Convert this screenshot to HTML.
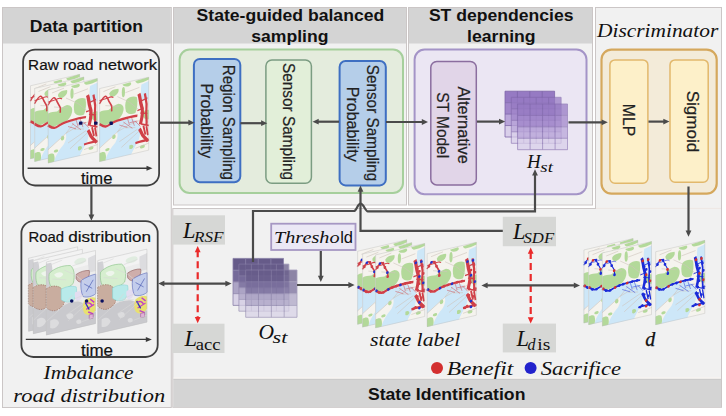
<!DOCTYPE html>
<html><head><meta charset="utf-8"><style>
html,body{margin:0;padding:0;background:#fff;}
body{width:726px;height:416px;overflow:hidden;}
svg{display:block;font-family:"Liberation Sans",sans-serif;}
.serif{font-family:"Liberation Serif",serif;font-style:italic;}
.hv{stroke:#111;stroke-width:0.2px;}
.hv2{stroke:#222;stroke-width:0.2px;}
</style></head><body>
<svg width="726" height="416" viewBox="0 0 726 416">
<defs>
<marker id="ah" viewBox="0 0 10 10" refX="9" refY="5" markerWidth="4.2" markerHeight="4.2" orient="auto-start-reverse" markerUnits="strokeWidth"><path d="M0,0.5 L10,5 L0,9.5 Z" fill="#4d4d4d"/></marker>
<marker id="ahr" viewBox="0 0 10 10" refX="9" refY="5" markerWidth="4.2" markerHeight="4.2" orient="auto-start-reverse" markerUnits="strokeWidth"><path d="M0,0.5 L10,5 L0,9.5 Z" fill="#e8302a"/></marker>
<marker id="ahk" viewBox="0 0 10 10" refX="9" refY="5" markerWidth="5" markerHeight="5" orient="auto-start-reverse" markerUnits="strokeWidth"><path d="M0,0.5 L10,5 L0,9.5 Z" fill="#404040"/></marker>

<g id="mRaw"><rect x="0" y="0" width="49.5" height="71" fill="#f5f3ee"/><path d="M0,36 C3,38 5,39.3 7,39.3 C10,39 14,37.5 18,36.5 C22,36 25,35.8 28,35.8 C32,36 36,38 39,42 L41,47 C41,53 40,58 38,61 C36,64 34,67 32,71 L0,71 Z" fill="#cde7f8"/><path d="M0,58 L17.5,46.2 C19,49 18,53 16,56 C12,60 8,64 6,71 L0,71 Z" fill="#f5f3ee"/><path d="M32,71 C34,67 36,64 38,61 L49.5,59 L49.5,71 Z" fill="#f5f3ee"/><path d="M42,5.7 L49.5,4 L49.5,22 L42.5,22 C41,15 41.5,10 42,5.7 Z" fill="#cde7f8"/><path d="M23,1.5 L31,1 C32.5,2.5 32,4 29.5,4.5 C26,4.5 24,3.5 23,1.5 Z" fill="#b3d99a"/><path d="M36,1 L49.5,0 L49.5,2.5 C46,3.5 42,4 38.5,3.8 C37,3.4 36.3,2.3 36,1 Z" fill="#b3d99a"/><path d="M10,7 C11,4.5 15,3.8 19,4.5 C20,7 18,10.5 14,11 C11,11 9.7,9 10,7 Z" fill="#b3d99a"/><path d="M27,17 C30,14.5 35,15 37.5,17 C38.5,22 38,28 36,32 C32,33 28,31 26.5,28 C25.5,24 25.5,20 27,17 Z" fill="#b3d99a"/><path d="M0,23 C3,22 6,22.5 9,23 C12,21 16,19 19,19 C23,20 25,23 24,27 C23,31 21,33 18,34.5 C12,35.5 8,36.5 6,37 C3,36.5 1,35 0,34.5 Z" fill="#b3d99a"/><path d="M42,33 C45,31 48,31 49.5,32 L49.5,41 C46,41 43,38 42,33 Z" fill="#b3d99a"/><path d="M0,63 C2,62 5,62 6,64 C7,67 6.5,70 6,71 L0,71 Z" fill="#b3d99a"/><path d="M30,62 C32,61 34,62 34,64 C33,66 31,66 30,65 Z" fill="#b3d99a"/><ellipse cx="24" cy="9" rx="1.6" ry="5" fill="#b3d99a"/><ellipse cx="14.5" cy="50" rx="1.8" ry="2.2" fill="#b3d99a"/><ellipse cx="8" cy="61" rx="2.2" ry="1.4" fill="#b3d99a"/><ellipse cx="43" cy="66" rx="2.5" ry="1.6" fill="#b3d99a"/><path d="M0,58 L17.5,46.6 L26,38 M18,46 L30,42 L40,40 M18,12 L30,20 L40,30 M6,18 L20,22 M22,62 L34,54 L40,50 M4,4 L16,2 M26,10 L40,8 M20,56 L38,48 M36,66 L49.5,64 M26,44 L36,46" stroke="#cdc4bb" stroke-width="0.55" fill="none"/><path d="M0,15 C2,12 4,9 5.8,9 C7.5,9 8.5,12 9.5,14.5 C10.5,16.5 11.5,18 12.3,20 L12.3,25" stroke="#d04048" stroke-width="1.5" fill="none"/><path d="M0,12 C3,11 6,12 9,11 C11,10.5 13,11 14,12" stroke="#d04048" stroke-width="1.0" fill="none"/><path d="M0,34.5 C2,36 4,38 6.5,38.3 C8.5,38.5 10,37.5 11,37 C14,36 16,35.5 18,35.3 C21,35 24,34.8 27,34.7 C31,34.5 35,34.5 38,35" stroke="#d04048" stroke-width="2.3" fill="none"/><path d="M39.5,14 C41,18 40.5,21 42,26 C44,31 43,37 41,44" stroke="#d04048" stroke-width="3.2" fill="none"/><path d="M45.5,15 C46,20 48,24 47,31 C46,37 48,41 47,46" stroke="#d04048" stroke-width="2.2" fill="none"/><path d="M40,22 L48,20 M41,33 L48,35 M38,30 L44,29" stroke="#d04048" stroke-width="1.3" fill="none"/><path d="M40,48 C42,51 42,54 44,56 C45,58 47,59 48.6,62" stroke="#d04048" stroke-width="3.0" fill="none"/><path d="M44,46 L46,55 M47,47 L48.5,56" stroke="#d04048" stroke-width="1.8" fill="none"/><path d="M36,61 C40,60.5 44,60 49.5,61" stroke="#d04048" stroke-width="2.2" fill="none"/><path d="M42,44 L49.5,47" stroke="#d04048" stroke-width="1.5" fill="none"/><path d="M28,35 L30,42 M32,35 L35,44 M36,40 L41,46 M30,40 L38,40 M24,38 L33,46 M20,40 L28,44" stroke="#d04048" stroke-width="0.8" fill="none" opacity="0.55"/><rect x="0.2" y="0.2" width="49.1" height="70.6" fill="none" stroke="#bdbdbd" stroke-width="0.4"/></g>
<g id="mDist"><rect x="0" y="0" width="49.5" height="71" fill="#ececec"/><path d="M0,46 C4,46 8,48 12,50 L14,47 C20,45 27,44 33,46 C38,48 44,54 49.5,60 L49.5,71 L0,71 Z" fill="#c9c9cd"/><path d="M4,58 C8,56 12,58 13,62 C11,66 7,67 4,65 Z M20,56 C24,54 28,56 27,60 C24,62 21,61 20,56 Z M30,64 C33,62 36,64 35,67 C32,68 30,67 30,64 Z" fill="#dcdcde"/><path d="M0,0 L49.5,0 L49.5,12 L0,14 Z" fill="#f3f3f3"/><path d="M0,2 L5,2 C7,8 6,16 7,24 L0,25 Z" fill="#d0d0d4"/><path d="M42,5.7 L49.5,4 L49.5,20 L43,20 C42,14 41.5,10 42,5.7 Z" fill="#dcdcdf"/><path d="M3,12 C8,8 16,7 24,9 C28,12 29,20 27,27 C22,31 14,31 8,29 C4,26 2,20 3,12 Z" fill="#d6eecf" stroke="#8cc48a" stroke-width="0.6"/><path d="M8,14 C12,12 16,13 17,16 C15,19 10,19 8,14 Z" fill="#eef5ec"/><path d="M0,26 C5,24 10,25 14,28 C18,32 19,38 18,44 C16,48 11,50 7,49 C4,48 1,46 0,44 Z" fill="#c9ad9f" stroke="#9a6a5a" stroke-width="0.6" stroke-dasharray="1.5,1"/><path d="M15,30 C20,28 26,29 30,31 C31,36 30,41 27,44 C22,45 18,43 15,40 Z" fill="#b8eaea" stroke="#80d4d4" stroke-width="0.5"/><path d="M29,36 C32,35 35,36 37,38 C37,42 34,45 31,45 C29,43 28,39 29,36 Z" fill="#e3dcf0"/><path d="M30,19 C34,17 39,17 43,18 C44,22 42,26 38,28 C34,28 31,26 30,23 Z" fill="#cfaeab" stroke="#8f5f5f" stroke-width="0.6"/><path d="M35,26 C39,24 45,23 49.5,23 L49.5,42 C46,44 41,44 37,42 C35,38 34,31 35,26 Z" fill="#c3cdec" stroke="#4858b0" stroke-width="0.5"/><path d="M38,30 L46,36 M40,38 L47,28" stroke="#4858b0" stroke-width="0.6"/><path d="M38,46 C42,44 47,44 49.5,46 L49.5,58 C46,62 41,62 38,58 C36,54 36,49 38,46 Z" fill="#e8e070"/><path d="M39,50 C42,48 45,50 46,53 M40,55 L48,52 M42,58 L47,61 M44,46 L48,50" stroke="#c040c8" stroke-width="1.3" fill="none"/><path d="M39,48 L43,56" stroke="#3030c0" stroke-width="1.2"/><rect x="43" y="61" width="4" height="4" fill="#e0b0d8" stroke="#a05090" stroke-width="0.5"/><ellipse cx="34" cy="7" rx="6" ry="3" fill="#e0ece0"/><path d="M0,58 L17.5,46.6 L26,38 M18,46 L30,42 L40,40 M18,12 L30,20 L40,30 M6,18 L20,22 M22,62 L34,54 L40,50 M4,4 L16,2 M26,10 L40,8 M20,56 L38,48 M36,66 L49.5,64 M26,44 L36,46" stroke="#d8d8d8" stroke-width="0.55" fill="none"/><rect x="0.2" y="0.2" width="49.1" height="70.6" fill="none" stroke="#bdbdbd" stroke-width="0.4"/></g>
<g id="mState"><rect x="0" y="0" width="49.5" height="71" fill="#f5f3ee"/><path d="M0,36 C3,38 5,39.3 7,39.3 C10,39 14,37.5 18,36.5 C22,36 25,35.8 28,35.8 C32,36 36,38 39,42 L41,47 C41,53 40,58 38,61 C36,64 34,67 32,71 L0,71 Z" fill="#cde7f8"/><path d="M0,58 L17.5,46.2 C19,49 18,53 16,56 C12,60 8,64 6,71 L0,71 Z" fill="#f5f3ee"/><path d="M32,71 C34,67 36,64 38,61 L49.5,59 L49.5,71 Z" fill="#f5f3ee"/><path d="M42,5.7 L49.5,4 L49.5,22 L42.5,22 C41,15 41.5,10 42,5.7 Z" fill="#cde7f8"/><path d="M23,1.5 L31,1 C32.5,2.5 32,4 29.5,4.5 C26,4.5 24,3.5 23,1.5 Z" fill="#b3d99a"/><path d="M36,1 L49.5,0 L49.5,2.5 C46,3.5 42,4 38.5,3.8 C37,3.4 36.3,2.3 36,1 Z" fill="#b3d99a"/><path d="M10,7 C11,4.5 15,3.8 19,4.5 C20,7 18,10.5 14,11 C11,11 9.7,9 10,7 Z" fill="#b3d99a"/><path d="M27,17 C30,14.5 35,15 37.5,17 C38.5,22 38,28 36,32 C32,33 28,31 26.5,28 C25.5,24 25.5,20 27,17 Z" fill="#b3d99a"/><path d="M0,23 C3,22 6,22.5 9,23 C12,21 16,19 19,19 C23,20 25,23 24,27 C23,31 21,33 18,34.5 C12,35.5 8,36.5 6,37 C3,36.5 1,35 0,34.5 Z" fill="#b3d99a"/><path d="M42,33 C45,31 48,31 49.5,32 L49.5,41 C46,41 43,38 42,33 Z" fill="#b3d99a"/><path d="M0,63 C2,62 5,62 6,64 C7,67 6.5,70 6,71 L0,71 Z" fill="#b3d99a"/><path d="M30,62 C32,61 34,62 34,64 C33,66 31,66 30,65 Z" fill="#b3d99a"/><ellipse cx="24" cy="9" rx="1.6" ry="5" fill="#b3d99a"/><ellipse cx="14.5" cy="50" rx="1.8" ry="2.2" fill="#b3d99a"/><ellipse cx="8" cy="61" rx="2.2" ry="1.4" fill="#b3d99a"/><ellipse cx="43" cy="66" rx="2.5" ry="1.6" fill="#b3d99a"/><path d="M0,58 L17.5,46.6 L26,38 M18,46 L30,42 L40,40 M18,12 L30,20 L40,30 M6,18 L20,22 M22,62 L34,54 L40,50 M4,4 L16,2 M26,10 L40,8 M20,56 L38,48 M36,66 L49.5,64 M26,44 L36,46" stroke="#cdc4bb" stroke-width="0.55" fill="none"/><path d="M0,15 C2,12 4,9 5.8,9 C7.5,9 8.5,12 9.5,14.5 C10.5,16.5 11.5,18 12.3,20 L12.3,25" stroke="#d04048" stroke-width="1.5" fill="none"/><path d="M0,12 C3,11 6,12 9,11 C11,10.5 13,11 14,12" stroke="#d04048" stroke-width="1.0" fill="none"/><path d="M0,34.5 C2,36 4,38 6.5,38.3 C8.5,38.5 10,37.5 11,37 C14,36 16,35.5 18,35.3 C21,35 24,34.8 27,34.7 C31,34.5 35,34.5 38,35" stroke="#d04048" stroke-width="2.3" fill="none"/><path d="M39.5,14 C41,18 40.5,21 42,26 C44,31 43,37 41,44" stroke="#d04048" stroke-width="3.2" fill="none"/><path d="M45.5,15 C46,20 48,24 47,31 C46,37 48,41 47,46" stroke="#d04048" stroke-width="2.2" fill="none"/><path d="M40,22 L48,20 M41,33 L48,35 M38,30 L44,29" stroke="#d04048" stroke-width="1.3" fill="none"/><path d="M40,48 C42,51 42,54 44,56 C45,58 47,59 48.6,62" stroke="#d04048" stroke-width="3.0" fill="none"/><path d="M44,46 L46,55 M47,47 L48.5,56" stroke="#d04048" stroke-width="1.8" fill="none"/><path d="M36,61 C40,60.5 44,60 49.5,61" stroke="#d04048" stroke-width="2.2" fill="none"/><path d="M42,44 L49.5,47" stroke="#d04048" stroke-width="1.5" fill="none"/><path d="M28,35 L30,42 M32,35 L35,44 M36,40 L41,46 M30,40 L38,40 M24,38 L33,46 M20,40 L28,44" stroke="#d04048" stroke-width="0.8" fill="none" opacity="0.55"/><circle cx="1" cy="35.2" r="1.35" fill="#2233cc"/><circle cx="4" cy="37.5" r="1.35" fill="#d04048"/><circle cx="8" cy="38.2" r="1.35" fill="#d04048"/><circle cx="13" cy="36.5" r="1.35" fill="#2233cc"/><circle cx="17" cy="35.5" r="1.35" fill="#d04048"/><circle cx="21" cy="35.1" r="1.35" fill="#d04048"/><circle cx="25" cy="34.9" r="1.35" fill="#2233cc"/><circle cx="30" cy="34.6" r="1.35" fill="#d04048"/><circle cx="35" cy="34.6" r="1.35" fill="#d04048"/><circle cx="40.5" cy="17" r="1.35" fill="#2233cc"/><circle cx="42" cy="23" r="1.35" fill="#d04048"/><circle cx="44" cy="26" r="1.35" fill="#d04048"/><circle cx="44" cy="31" r="1.35" fill="#2233cc"/><circle cx="43.5" cy="38" r="1.35" fill="#d04048"/><circle cx="42.3" cy="44" r="1.35" fill="#d04048"/><circle cx="46" cy="17" r="1.35" fill="#2233cc"/><circle cx="47" cy="22" r="1.35" fill="#d04048"/><circle cx="48" cy="29" r="1.35" fill="#d04048"/><circle cx="48" cy="38" r="1.35" fill="#2233cc"/><circle cx="48.5" cy="45" r="1.35" fill="#d04048"/><circle cx="42" cy="50" r="1.35" fill="#d04048"/><circle cx="44" cy="56" r="1.35" fill="#2233cc"/><circle cx="47" cy="60" r="1.35" fill="#d04048"/><circle cx="2" cy="13" r="1.35" fill="#d04048"/><circle cx="4.5" cy="9.6" r="1.35" fill="#2233cc"/><circle cx="7.5" cy="10" r="1.35" fill="#d04048"/><circle cx="9.5" cy="14.5" r="1.35" fill="#d04048"/><circle cx="12" cy="20" r="1.35" fill="#2233cc"/><circle cx="12.3" cy="24" r="1.35" fill="#d04048"/><circle cx="40" cy="60" r="1.35" fill="#d04048"/><circle cx="44" cy="61.5" r="1.35" fill="#2233cc"/><circle cx="46" cy="52" r="1.35" fill="#d04048"/><circle cx="38" cy="61" r="1.35" fill="#d04048"/><rect x="0.2" y="0.2" width="49.1" height="70.6" fill="none" stroke="#bdbdbd" stroke-width="0.4"/></g>
<g id="mD"><rect x="0" y="0" width="49.5" height="71" fill="#f5f3ee"/><path d="M0,36 C3,38 5,39.3 7,39.3 C10,39 14,37.5 18,36.5 C22,36 25,35.8 28,35.8 C32,36 36,38 39,42 L41,47 C41,53 40,58 38,61 C36,64 34,67 32,71 L0,71 Z" fill="#cde7f8"/><path d="M0,58 L17.5,46.2 C19,49 18,53 16,56 C12,60 8,64 6,71 L0,71 Z" fill="#f5f3ee"/><path d="M32,71 C34,67 36,64 38,61 L49.5,59 L49.5,71 Z" fill="#f5f3ee"/><path d="M42,5.7 L49.5,4 L49.5,22 L42.5,22 C41,15 41.5,10 42,5.7 Z" fill="#cde7f8"/><path d="M23,1.5 L31,1 C32.5,2.5 32,4 29.5,4.5 C26,4.5 24,3.5 23,1.5 Z" fill="#b3d99a"/><path d="M36,1 L49.5,0 L49.5,2.5 C46,3.5 42,4 38.5,3.8 C37,3.4 36.3,2.3 36,1 Z" fill="#b3d99a"/><path d="M10,7 C11,4.5 15,3.8 19,4.5 C20,7 18,10.5 14,11 C11,11 9.7,9 10,7 Z" fill="#b3d99a"/><path d="M27,17 C30,14.5 35,15 37.5,17 C38.5,22 38,28 36,32 C32,33 28,31 26.5,28 C25.5,24 25.5,20 27,17 Z" fill="#b3d99a"/><path d="M0,23 C3,22 6,22.5 9,23 C12,21 16,19 19,19 C23,20 25,23 24,27 C23,31 21,33 18,34.5 C12,35.5 8,36.5 6,37 C3,36.5 1,35 0,34.5 Z" fill="#b3d99a"/><path d="M42,33 C45,31 48,31 49.5,32 L49.5,41 C46,41 43,38 42,33 Z" fill="#b3d99a"/><path d="M0,63 C2,62 5,62 6,64 C7,67 6.5,70 6,71 L0,71 Z" fill="#b3d99a"/><path d="M30,62 C32,61 34,62 34,64 C33,66 31,66 30,65 Z" fill="#b3d99a"/><ellipse cx="24" cy="9" rx="1.6" ry="5" fill="#b3d99a"/><ellipse cx="14.5" cy="50" rx="1.8" ry="2.2" fill="#b3d99a"/><ellipse cx="8" cy="61" rx="2.2" ry="1.4" fill="#b3d99a"/><ellipse cx="43" cy="66" rx="2.5" ry="1.6" fill="#b3d99a"/><path d="M0,58 L17.5,46.6 L26,38 M18,46 L30,42 L40,40 M18,12 L30,20 L40,30 M6,18 L20,22 M22,62 L34,54 L40,50 M4,4 L16,2 M26,10 L40,8 M20,56 L38,48 M36,66 L49.5,64 M26,44 L36,46" stroke="#cdc4bb" stroke-width="0.55" fill="none"/><path d="M0,15 C2,12 4,9 5.8,9 C7.5,9 8.5,12 9.5,14.5 C10.5,16.5 11.5,18 12.3,20 L12.3,25" stroke="#1a2bd8" stroke-width="1.0" fill="none"/><path d="M0,12 C3,11 6,12 9,11 C11,10.5 13,11 14,12" stroke="#1a2bd8" stroke-width="0.5" fill="none"/><path d="M0,34.5 C2,36 4,38 6.5,38.3 C8.5,38.5 10,37.5 11,37 C14,36 16,35.5 18,35.3 C21,35 24,34.8 27,34.7 C31,34.5 35,34.5 38,35" stroke="#1a2bd8" stroke-width="1.7999999999999998" fill="none"/><path d="M39.5,14 C41,18 40.5,21 42,26 C44,31 43,37 41,44" stroke="#1a2bd8" stroke-width="2.7" fill="none"/><path d="M45.5,15 C46,20 48,24 47,31 C46,37 48,41 47,46" stroke="#1a2bd8" stroke-width="1.7000000000000002" fill="none"/><path d="M40,22 L48,20 M41,33 L48,35 M38,30 L44,29" stroke="#1a2bd8" stroke-width="0.8" fill="none"/><path d="M40,48 C42,51 42,54 44,56 C45,58 47,59 48.6,62" stroke="#1a2bd8" stroke-width="2.5" fill="none"/><path d="M44,46 L46,55 M47,47 L48.5,56" stroke="#1a2bd8" stroke-width="1.3" fill="none"/><path d="M36,61 C40,60.5 44,60 49.5,61" stroke="#1a2bd8" stroke-width="1.7000000000000002" fill="none"/><path d="M42,44 L49.5,47" stroke="#1a2bd8" stroke-width="1.0" fill="none"/><path d="M28,35 L30,42 M32,35 L35,44 M36,40 L41,46 M30,40 L38,40 M24,38 L33,46 M20,40 L28,44" stroke="#1a2bd8" stroke-width="0.8" fill="none" opacity="0.55"/><circle cx="1" cy="35.2" r="1.35" fill="#d03030"/><circle cx="4" cy="37.5" r="1.35" fill="#1a2bd8"/><circle cx="8" cy="38.2" r="1.35" fill="#1a2bd8"/><circle cx="13" cy="36.5" r="1.35" fill="#d03030"/><circle cx="17" cy="35.5" r="1.35" fill="#1a2bd8"/><circle cx="21" cy="35.1" r="1.35" fill="#1a2bd8"/><circle cx="25" cy="34.9" r="1.35" fill="#d03030"/><circle cx="30" cy="34.6" r="1.35" fill="#1a2bd8"/><circle cx="35" cy="34.6" r="1.35" fill="#1a2bd8"/><circle cx="40.5" cy="17" r="1.35" fill="#d03030"/><circle cx="42" cy="23" r="1.35" fill="#1a2bd8"/><circle cx="44" cy="26" r="1.35" fill="#1a2bd8"/><circle cx="44" cy="31" r="1.35" fill="#d03030"/><circle cx="43.5" cy="38" r="1.35" fill="#1a2bd8"/><circle cx="42.3" cy="44" r="1.35" fill="#1a2bd8"/><circle cx="46" cy="17" r="1.35" fill="#d03030"/><circle cx="47" cy="22" r="1.35" fill="#1a2bd8"/><circle cx="48" cy="29" r="1.35" fill="#1a2bd8"/><circle cx="48" cy="38" r="1.35" fill="#d03030"/><circle cx="48.5" cy="45" r="1.35" fill="#1a2bd8"/><circle cx="42" cy="50" r="1.35" fill="#1a2bd8"/><circle cx="44" cy="56" r="1.35" fill="#d03030"/><circle cx="47" cy="60" r="1.35" fill="#1a2bd8"/><circle cx="2" cy="13" r="1.35" fill="#1a2bd8"/><circle cx="4.5" cy="9.6" r="1.35" fill="#d03030"/><circle cx="7.5" cy="10" r="1.35" fill="#1a2bd8"/><circle cx="9.5" cy="14.5" r="1.35" fill="#1a2bd8"/><circle cx="12" cy="20" r="1.35" fill="#d03030"/><circle cx="12.3" cy="24" r="1.35" fill="#1a2bd8"/><circle cx="40" cy="60" r="1.35" fill="#1a2bd8"/><circle cx="44" cy="61.5" r="1.35" fill="#d03030"/><circle cx="46" cy="52" r="1.35" fill="#1a2bd8"/><circle cx="38" cy="61" r="1.35" fill="#1a2bd8"/><rect x="0.2" y="0.2" width="49.1" height="70.6" fill="none" stroke="#bdbdbd" stroke-width="0.4"/></g>
</defs>
<rect x="2.5" y="7.5" width="168.8" height="400" fill="#f1f1f1" stroke="#cbc6c6" stroke-width="1"/>
<rect x="3" y="8" width="167.8" height="35.5" fill="#d4d4d4"/>
<rect x="173.5" y="7.5" width="233" height="197.5" fill="#f1f1f1" stroke="#cbc6c6" stroke-width="1"/>
<rect x="174" y="8" width="232" height="35.5" fill="#d4d4d4"/>
<rect x="408.5" y="7.5" width="184" height="197.5" fill="#f1f1f1" stroke="#cbc6c6" stroke-width="1"/>
<rect x="409" y="8" width="183" height="35.5" fill="#d4d4d4"/>
<rect x="595.5" y="7.5" width="126" height="201" fill="#f1f1f1" stroke="#cbc6c6" stroke-width="1"/>
<rect x="172.8" y="208.5" width="548.7" height="198.8" fill="#f1f1f1" stroke="#cbc6c6" stroke-width="1"/>
<rect x="173.3" y="379" width="547.7" height="28" fill="#d4d4d4"/>
<line x1="173.5" y1="378" x2="721" y2="378" stroke="#fbf6f2" stroke-width="1.2"/>
<line x1="173.5" y1="379.3" x2="721" y2="379.3" stroke="#c6c6c6" stroke-width="0.8"/>
<rect x="596" y="200" width="125" height="12" fill="#f1f1f1"/>
<line x1="596" y1="208.4" x2="721" y2="208.4" stroke="#ece2de" stroke-width="0.7"/>
<g font-weight="bold" font-size="17" fill="#111">
<text x="29.8" y="31.8" textLength="113.3" lengthAdjust="spacingAndGlyphs">Data partition</text>
<text x="196.6" y="20.9" textLength="187.6" lengthAdjust="spacingAndGlyphs">State-guided balanced</text>
<text x="251.3" y="41.8" textLength="77.2" lengthAdjust="spacingAndGlyphs">sampling</text>
<text x="428.9" y="20.9" textLength="144.6" lengthAdjust="spacingAndGlyphs">ST dependencies</text>
<text x="467" y="42.2" textLength="68.6" lengthAdjust="spacingAndGlyphs">learning</text>
<text x="367.9" y="399.5" textLength="157.5" lengthAdjust="spacingAndGlyphs">State Identification</text>
</g>
<text class="serif" x="597" y="36.6" font-size="18" textLength="121.3" lengthAdjust="spacingAndGlyphs" fill="#111">Discriminator</text>
<rect x="23.1" y="49.6" width="136" height="135.9" rx="12" fill="none" stroke="#404040" stroke-width="1.8"/>
<text class="hv" x="28.1" y="69.9" font-size="15.3" textLength="65.5" lengthAdjust="spacingAndGlyphs" fill="#111">Raw road</text><text class="hv" x="98.5" y="69.9" font-size="15.3" textLength="58.6" lengthAdjust="spacingAndGlyphs" fill="#111">network</text>
<g transform="translate(30.30,85.60) skewY(-13.079) scale(1,1.0338)"><use href="#mRaw"/></g>
<g transform="translate(34.50,88.30) skewY(-13.079) scale(1,1.0338)"><use href="#mRaw"/></g>
<g transform="translate(48.00,89.80) skewY(-13.079) scale(1,1.0338)"><use href="#mRaw"/></g>
<g transform="translate(99.40,88.40) skewY(-13.079) scale(1,1.0338)"><use href="#mRaw"/></g>
<rect x="79.0" y="121.39999999999999" width="3.4" height="3.4" rx="0.9" fill="#0a1060"/>
<rect x="94.1" y="121.39999999999999" width="3.4" height="3.4" rx="0.9" fill="#0a1060"/>
<rect x="109.5" y="121.5" width="3.4" height="3.4" rx="0.9" fill="#0a1060"/>
<text class="hv" x="81" y="184.2" font-size="16" textLength="31.4" lengthAdjust="spacingAndGlyphs" fill="#111">time</text>
<rect x="21.4" y="221.2" width="136.3" height="135.8" rx="12" fill="none" stroke="#404040" stroke-width="1.8"/>
<text class="hv" x="28.6" y="242" font-size="15.3" textLength="35.5" lengthAdjust="spacingAndGlyphs" fill="#111">Road</text><text class="hv" x="68.2" y="242" font-size="15.3" textLength="82.8" lengthAdjust="spacingAndGlyphs" fill="#111">distribution</text>
<g transform="translate(28.40,258.10) skewY(-13.079) scale(1,1.0338)"><use href="#mDist"/></g>
<g transform="translate(33.10,260.50) skewY(-13.079) scale(1,1.0338)"><use href="#mDist"/></g>
<g transform="translate(46.20,261.80) skewY(-13.079) scale(1,1.0338)"><use href="#mDist"/></g>
<g transform="translate(97.60,260.40) skewY(-13.079) scale(1,1.0338)"><use href="#mDist"/></g>
<circle cx="71.7" cy="300.9" r="1.75" fill="#0a1060"/>
<circle cx="86.6" cy="300.9" r="1.75" fill="#0a1060"/>
<circle cx="102.1" cy="300.9" r="1.75" fill="#0a1060"/>
<text class="hv" x="81" y="356" font-size="16" textLength="32" lengthAdjust="spacingAndGlyphs" fill="#111">time</text>
<text class="serif" x="43.6" y="379.0" font-size="18" textLength="90" lengthAdjust="spacingAndGlyphs" fill="#111">Imbalance</text>
<text class="serif" x="13.3" y="401.8" font-size="18" textLength="151.8" lengthAdjust="spacingAndGlyphs" fill="#111">road distribution</text>
<rect x="179.6" y="49.6" width="223.4" height="143.4" rx="10" fill="#e4ecdd" stroke="#a6cf9c" stroke-width="2"/>
<rect x="193.9" y="58.9" width="46.4" height="123.4" rx="6" fill="#b5cee9" stroke="#3e6fc2" stroke-width="2"/>
<rect x="265.9" y="59.9" width="45.5" height="123.3" rx="6" fill="#e2efd9" stroke="#7b9c82" stroke-width="1.5"/>
<rect x="339.6" y="61" width="46.2" height="124.4" rx="6" fill="#b5cee9" stroke="#3e6fc2" stroke-width="2"/>
<g fill="#222">
<text class="hv2" x="222.50" y="122.35" transform="rotate(90 222.50 122.35)" text-anchor="middle" font-size="16" textLength="115.3" lengthAdjust="spacingAndGlyphs" fill="#222">Region Sampling</text>
<text class="hv2" x="201.40" y="120.90" transform="rotate(90 201.40 120.90)" text-anchor="middle" font-size="16" textLength="74.6" lengthAdjust="spacingAndGlyphs" fill="#222">Probability</text>
<text class="hv2" x="283.10" y="121.50" transform="rotate(90 283.10 121.50)" text-anchor="middle" font-size="16" textLength="117" lengthAdjust="spacingAndGlyphs" fill="#222">Sensor Sampling</text>
<text class="hv2" x="367.00" y="123.00" transform="rotate(90 367.00 123.00)" text-anchor="middle" font-size="16" textLength="116.5" lengthAdjust="spacingAndGlyphs" fill="#222">Sensor Sampling</text>
<text class="hv2" x="346.60" y="124.20" transform="rotate(90 346.60 124.20)" text-anchor="middle" font-size="16" textLength="75" lengthAdjust="spacingAndGlyphs" fill="#222">Probability</text>
</g>
<rect x="414.6" y="49.6" width="171.9" height="144.6" rx="10" fill="#ebe6f3" stroke="#a494c7" stroke-width="2"/>
<rect x="430.8" y="61.5" width="45.5" height="123.4" rx="6" fill="#e1d5e8" stroke="#8b6e9f" stroke-width="1.5"/>
<g fill="#222">
<text class="hv2" x="458.10" y="125.10" transform="rotate(90 458.10 125.10)" text-anchor="middle" font-size="16" textLength="77.3" lengthAdjust="spacingAndGlyphs" fill="#222">Alternative</text>
<text class="hv2" x="437.30" y="125.20" transform="rotate(90 437.30 125.20)" text-anchor="middle" font-size="16" textLength="65.9" lengthAdjust="spacingAndGlyphs" fill="#222">ST Model</text>
</g>
<g opacity="1.0"><rect x="505.00" y="91.20" width="49.60" height="11.45" fill="#967ac3"/><rect x="505.00" y="102.65" width="49.60" height="11.45" fill="#a186ca"/><rect x="505.00" y="114.10" width="49.60" height="11.45" fill="#b9a5d9"/><rect x="505.00" y="125.55" width="49.60" height="11.45" fill="#d9cfea"/><line x1="505.00" y1="91.20" x2="505.00" y2="137.00" stroke="#7e66a8" stroke-width="0.8"/><line x1="517.40" y1="91.20" x2="517.40" y2="137.00" stroke="#7e66a8" stroke-width="0.8"/><line x1="529.80" y1="91.20" x2="529.80" y2="137.00" stroke="#7e66a8" stroke-width="0.8"/><line x1="542.20" y1="91.20" x2="542.20" y2="137.00" stroke="#7e66a8" stroke-width="0.8"/><line x1="554.60" y1="91.20" x2="554.60" y2="137.00" stroke="#7e66a8" stroke-width="0.8"/><line x1="505.00" y1="91.20" x2="554.60" y2="91.20" stroke="#7e66a8" stroke-width="0.8"/><line x1="505.00" y1="102.65" x2="554.60" y2="102.65" stroke="#7e66a8" stroke-width="0.8"/><line x1="505.00" y1="114.10" x2="554.60" y2="114.10" stroke="#7e66a8" stroke-width="0.8"/><line x1="505.00" y1="125.55" x2="554.60" y2="125.55" stroke="#7e66a8" stroke-width="0.8"/><line x1="505.00" y1="137.00" x2="554.60" y2="137.00" stroke="#7e66a8" stroke-width="0.8"/></g>
<g opacity="0.72"><rect x="511.30" y="97.30" width="49.80" height="11.50" fill="#967ac3"/><rect x="511.30" y="108.80" width="49.80" height="11.50" fill="#a186ca"/><rect x="511.30" y="120.30" width="49.80" height="11.50" fill="#b9a5d9"/><rect x="511.30" y="131.80" width="49.80" height="11.50" fill="#d9cfea"/><line x1="511.30" y1="97.30" x2="511.30" y2="143.30" stroke="#7e66a8" stroke-width="0.8"/><line x1="523.75" y1="97.30" x2="523.75" y2="143.30" stroke="#7e66a8" stroke-width="0.8"/><line x1="536.20" y1="97.30" x2="536.20" y2="143.30" stroke="#7e66a8" stroke-width="0.8"/><line x1="548.65" y1="97.30" x2="548.65" y2="143.30" stroke="#7e66a8" stroke-width="0.8"/><line x1="561.10" y1="97.30" x2="561.10" y2="143.30" stroke="#7e66a8" stroke-width="0.8"/><line x1="511.30" y1="97.30" x2="561.10" y2="97.30" stroke="#7e66a8" stroke-width="0.8"/><line x1="511.30" y1="108.80" x2="561.10" y2="108.80" stroke="#7e66a8" stroke-width="0.8"/><line x1="511.30" y1="120.30" x2="561.10" y2="120.30" stroke="#7e66a8" stroke-width="0.8"/><line x1="511.30" y1="131.80" x2="561.10" y2="131.80" stroke="#7e66a8" stroke-width="0.8"/><line x1="511.30" y1="143.30" x2="561.10" y2="143.30" stroke="#7e66a8" stroke-width="0.8"/></g>
<g opacity="0.72"><rect x="517.60" y="104.00" width="50.00" height="11.43" fill="#967ac3"/><rect x="517.60" y="115.42" width="50.00" height="11.43" fill="#a186ca"/><rect x="517.60" y="126.85" width="50.00" height="11.43" fill="#b9a5d9"/><rect x="517.60" y="138.28" width="50.00" height="11.43" fill="#d9cfea"/><line x1="517.60" y1="104.00" x2="517.60" y2="149.70" stroke="#7e66a8" stroke-width="0.8"/><line x1="530.10" y1="104.00" x2="530.10" y2="149.70" stroke="#7e66a8" stroke-width="0.8"/><line x1="542.60" y1="104.00" x2="542.60" y2="149.70" stroke="#7e66a8" stroke-width="0.8"/><line x1="555.10" y1="104.00" x2="555.10" y2="149.70" stroke="#7e66a8" stroke-width="0.8"/><line x1="567.60" y1="104.00" x2="567.60" y2="149.70" stroke="#7e66a8" stroke-width="0.8"/><line x1="517.60" y1="104.00" x2="567.60" y2="104.00" stroke="#7e66a8" stroke-width="0.8"/><line x1="517.60" y1="115.42" x2="567.60" y2="115.42" stroke="#7e66a8" stroke-width="0.8"/><line x1="517.60" y1="126.85" x2="567.60" y2="126.85" stroke="#7e66a8" stroke-width="0.8"/><line x1="517.60" y1="138.28" x2="567.60" y2="138.28" stroke="#7e66a8" stroke-width="0.8"/><line x1="517.60" y1="149.70" x2="567.60" y2="149.70" stroke="#7e66a8" stroke-width="0.8"/></g>
<text class="serif" x="527" y="167.5" font-size="19" fill="#111">H</text><text class="serif" x="540.3" y="171.8" font-size="15.5" textLength="12.6" lengthAdjust="spacingAndGlyphs" fill="#111">st</text>
<rect x="601.5" y="49.6" width="115.2" height="144" rx="10" fill="#f3ebd9" stroke="#d5a85d" stroke-width="2.2"/>
<rect x="609.9" y="59.9" width="38" height="123.3" rx="5" fill="#fdf0c9" stroke="#e2b86c" stroke-width="1.5"/>
<rect x="670" y="59.9" width="38.2" height="122.4" rx="5" fill="#fdf0c9" stroke="#e2b86c" stroke-width="1.5"/>
<g fill="#222">
<text class="hv2" x="622.90" y="120.00" transform="rotate(90 622.90 120.00)" text-anchor="middle" font-size="16" textLength="32.5" lengthAdjust="spacingAndGlyphs" fill="#222">MLP</text>
<text class="hv2" x="686.80" y="121.50" transform="rotate(90 686.80 121.50)" text-anchor="middle" font-size="16" textLength="61.7" lengthAdjust="spacingAndGlyphs" fill="#222">Sigmoid</text>
</g>
<rect x="172.2" y="215.3" width="52.8" height="29.3" fill="#d6d7d5"/>
<rect x="172.2" y="323.7" width="52.3" height="29.3" fill="#d6d7d5"/>
<rect x="502.8" y="216.8" width="53.2" height="29.4" fill="#d6d7d5"/>
<rect x="502.8" y="323.6" width="53.2" height="28.8" fill="#d6d7d5"/>
<g class="serif" fill="#111">
<text x="183" y="237.9" font-size="22.5">L</text><text x="194" y="241.6" font-size="15.5" textLength="29.5" lengthAdjust="spacingAndGlyphs">RSF</text>
<text x="184.5" y="345.7" font-size="22.5">L</text><text x="195.8" y="350" font-size="17" font-style="normal" textLength="24.8" lengthAdjust="spacingAndGlyphs">acc</text>
<text x="513" y="238.9" font-size="22.5">L</text><text x="523.5" y="243" font-size="15.5" textLength="30.6" lengthAdjust="spacingAndGlyphs">SDF</text>
<text x="516.5" y="345.5" font-size="22.5">L</text><text x="527.5" y="349.6" font-size="16">d</text><text x="537.3" y="349.6" font-size="16" font-style="normal" textLength="13" lengthAdjust="spacingAndGlyphs">is</text>
</g>
<g opacity="1.0"><rect x="233.00" y="258.40" width="50.50" height="11.75" fill="#665b89"/><rect x="233.00" y="270.15" width="50.50" height="11.75" fill="#756a99"/><rect x="233.00" y="281.90" width="50.50" height="11.75" fill="#aca4c5"/><rect x="233.00" y="293.65" width="50.50" height="11.75" fill="#d8d2e6"/><line x1="233.00" y1="258.40" x2="233.00" y2="305.40" stroke="#8a81a8" stroke-width="0.8"/><line x1="245.62" y1="258.40" x2="245.62" y2="305.40" stroke="#8a81a8" stroke-width="0.8"/><line x1="258.25" y1="258.40" x2="258.25" y2="305.40" stroke="#8a81a8" stroke-width="0.8"/><line x1="270.88" y1="258.40" x2="270.88" y2="305.40" stroke="#8a81a8" stroke-width="0.8"/><line x1="283.50" y1="258.40" x2="283.50" y2="305.40" stroke="#8a81a8" stroke-width="0.8"/><line x1="233.00" y1="258.40" x2="283.50" y2="258.40" stroke="#8a81a8" stroke-width="0.8"/><line x1="233.00" y1="270.15" x2="283.50" y2="270.15" stroke="#8a81a8" stroke-width="0.8"/><line x1="233.00" y1="281.90" x2="283.50" y2="281.90" stroke="#8a81a8" stroke-width="0.8"/><line x1="233.00" y1="293.65" x2="283.50" y2="293.65" stroke="#8a81a8" stroke-width="0.8"/><line x1="233.00" y1="305.40" x2="283.50" y2="305.40" stroke="#8a81a8" stroke-width="0.8"/></g>
<g opacity="0.72"><rect x="238.90" y="264.10" width="50.00" height="11.78" fill="#665b89"/><rect x="238.90" y="275.88" width="50.00" height="11.78" fill="#756a99"/><rect x="238.90" y="287.65" width="50.00" height="11.78" fill="#aca4c5"/><rect x="238.90" y="299.43" width="50.00" height="11.78" fill="#d8d2e6"/><line x1="238.90" y1="264.10" x2="238.90" y2="311.20" stroke="#8a81a8" stroke-width="0.8"/><line x1="251.40" y1="264.10" x2="251.40" y2="311.20" stroke="#8a81a8" stroke-width="0.8"/><line x1="263.90" y1="264.10" x2="263.90" y2="311.20" stroke="#8a81a8" stroke-width="0.8"/><line x1="276.40" y1="264.10" x2="276.40" y2="311.20" stroke="#8a81a8" stroke-width="0.8"/><line x1="288.90" y1="264.10" x2="288.90" y2="311.20" stroke="#8a81a8" stroke-width="0.8"/><line x1="238.90" y1="264.10" x2="288.90" y2="264.10" stroke="#8a81a8" stroke-width="0.8"/><line x1="238.90" y1="275.88" x2="288.90" y2="275.88" stroke="#8a81a8" stroke-width="0.8"/><line x1="238.90" y1="287.65" x2="288.90" y2="287.65" stroke="#8a81a8" stroke-width="0.8"/><line x1="238.90" y1="299.43" x2="288.90" y2="299.43" stroke="#8a81a8" stroke-width="0.8"/><line x1="238.90" y1="311.20" x2="288.90" y2="311.20" stroke="#8a81a8" stroke-width="0.8"/></g>
<g opacity="0.72"><rect x="245.70" y="270.00" width="51.30" height="11.82" fill="#665b89"/><rect x="245.70" y="281.82" width="51.30" height="11.82" fill="#756a99"/><rect x="245.70" y="293.65" width="51.30" height="11.82" fill="#aca4c5"/><rect x="245.70" y="305.48" width="51.30" height="11.82" fill="#d8d2e6"/><line x1="245.70" y1="270.00" x2="245.70" y2="317.30" stroke="#8a81a8" stroke-width="0.8"/><line x1="258.52" y1="270.00" x2="258.52" y2="317.30" stroke="#8a81a8" stroke-width="0.8"/><line x1="271.35" y1="270.00" x2="271.35" y2="317.30" stroke="#8a81a8" stroke-width="0.8"/><line x1="284.17" y1="270.00" x2="284.17" y2="317.30" stroke="#8a81a8" stroke-width="0.8"/><line x1="297.00" y1="270.00" x2="297.00" y2="317.30" stroke="#8a81a8" stroke-width="0.8"/><line x1="245.70" y1="270.00" x2="297.00" y2="270.00" stroke="#8a81a8" stroke-width="0.8"/><line x1="245.70" y1="281.82" x2="297.00" y2="281.82" stroke="#8a81a8" stroke-width="0.8"/><line x1="245.70" y1="293.65" x2="297.00" y2="293.65" stroke="#8a81a8" stroke-width="0.8"/><line x1="245.70" y1="305.48" x2="297.00" y2="305.48" stroke="#8a81a8" stroke-width="0.8"/><line x1="245.70" y1="317.30" x2="297.00" y2="317.30" stroke="#8a81a8" stroke-width="0.8"/></g>
<text class="serif" x="258.5" y="338.6" font-size="21.5" fill="#111">O</text><text class="serif" x="272.5" y="343.2" font-size="16" textLength="14.8" lengthAdjust="spacingAndGlyphs" fill="#111">st</text>
<path d="M253,262 L253,211 L354,211 C356.5,211 357.5,203.7 360.6,203.7 C363.7,203.7 365.2,211.4 367.8,211.4 L535,211.4 L535,174.5" fill="none" stroke="#4a4a4a" stroke-width="2.2"/><path d="M535.00,169.30 L537.90,175.50 L532.10,175.50 Z" fill="#4a4a4a"/>
<rect x="271.2" y="223.7" width="84.3" height="26.3" fill="#ebe8f5" stroke="#a697c3" stroke-width="1.8"/>
<text class="serif" x="274" y="242.5" font-size="17.5" fill="#111" textLength="65.5" lengthAdjust="spacingAndGlyphs">Thresho</text><text x="340.2" y="242.5" font-size="16.5" fill="#111">ld</text>
<g transform="translate(357.40,251.10) skewY(-13.079) scale(1,1.0338)"><use href="#mState"/></g>
<g transform="translate(362.40,253.90) skewY(-13.079) scale(1,1.0338)"><use href="#mState"/></g>
<g transform="translate(375.40,254.70) skewY(-13.079) scale(1,1.0338)"><use href="#mState"/></g>
<g transform="translate(427.00,253.50) skewY(-13.079) scale(1,1.0338)"><use href="#mState"/></g>
<text class="serif" x="370" y="345.7" font-size="18" textLength="90.2" lengthAdjust="spacingAndGlyphs" fill="#111">state label</text>
<g transform="translate(583.70,249.80) skewY(-13.079) scale(1,1.0338)"><use href="#mD"/></g>
<g transform="translate(588.50,251.50) skewY(-13.079) scale(1,1.0338)"><use href="#mD"/></g>
<g transform="translate(602.20,252.80) skewY(-13.079) scale(1,1.0338)"><use href="#mD"/></g>
<g transform="translate(655.50,251.60) skewY(-13.079) scale(1,1.0338)"><use href="#mD"/></g>
<text class="serif" x="645.3" y="346.3" font-size="20" fill="#111" stroke="#111" stroke-width="0.25">d</text>
<circle cx="437" cy="368" r="6" fill="#d32f2f"/>
<text class="serif" x="446.7" y="375" font-size="18" textLength="66.6" lengthAdjust="spacingAndGlyphs" fill="#111">Benefit</text>
<circle cx="530.6" cy="368" r="6" fill="#2222cc"/>
<text class="serif" x="540.8" y="375" font-size="18" textLength="80.2" lengthAdjust="spacingAndGlyphs" fill="#111">Sacrifice</text>
<path d="M27.60,168.30 L148.30,168.30" fill="none" stroke="#3a3a3a" stroke-width="1.4" /><path d="M152.50,168.30 L146.50,170.80 L146.50,165.80 Z" fill="#3a3a3a"/>
<path d="M91.40,186.00 L91.40,216.46" fill="none" stroke="#4a4a4a" stroke-width="2.2" /><path d="M91.40,220.80 L88.50,214.60 L94.30,214.60 Z" fill="#4a4a4a"/>
<path d="M25.80,339.40 L147.60,339.40" fill="none" stroke="#3a3a3a" stroke-width="1.4" /><path d="M151.80,339.40 L145.80,341.90 L145.80,336.90 Z" fill="#3a3a3a"/>
<path d="M159.50,122.70 L190.26,122.70" fill="none" stroke="#4a4a4a" stroke-width="2.2" /><path d="M194.60,122.70 L188.40,125.60 L188.40,119.80 Z" fill="#4a4a4a"/>
<path d="M240.40,123.20 L262.96,123.20" fill="none" stroke="#4a4a4a" stroke-width="2.2" /><path d="M267.30,123.20 L261.10,126.10 L261.10,120.30 Z" fill="#4a4a4a"/>
<path d="M339.00,121.70 L316.84,121.70" fill="none" stroke="#4a4a4a" stroke-width="2.2" /><path d="M312.50,121.70 L318.70,118.80 L318.70,124.60 Z" fill="#4a4a4a"/>
<path d="M386.00,122.00 L423.66,122.00" fill="none" stroke="#4a4a4a" stroke-width="2.2" /><path d="M428.00,122.00 L421.80,124.90 L421.80,119.10 Z" fill="#4a4a4a"/>
<path d="M477.00,121.60 L500.86,121.60" fill="none" stroke="#4a4a4a" stroke-width="2.2" /><path d="M505.20,121.60 L499.00,124.50 L499.00,118.70 Z" fill="#4a4a4a"/>
<path d="M568.50,122.30 L603.46,122.30" fill="none" stroke="#4a4a4a" stroke-width="2.2" /><path d="M607.80,122.30 L601.60,125.20 L601.60,119.40 Z" fill="#4a4a4a"/>
<path d="M648.50,121.60 L665.16,121.60" fill="none" stroke="#4a4a4a" stroke-width="2.2" /><path d="M669.50,121.60 L663.30,124.50 L663.30,118.70 Z" fill="#4a4a4a"/>
<path d="M688.50,186.50 L688.50,232.46" fill="none" stroke="#4a4a4a" stroke-width="2.2" /><path d="M688.50,236.80 L685.60,230.60 L691.40,230.60 Z" fill="#4a4a4a"/>
<path d="M197.70,250.34 L197.70,318.96" fill="none" stroke="#ea2a2a" stroke-width="2.2" stroke-dasharray="7,4"/><path d="M197.70,323.30 L194.80,317.10 L200.60,317.10 Z" fill="#ea2a2a"/><path d="M197.70,246.00 L200.60,252.20 L194.80,252.20 Z" fill="#ea2a2a"/>
<path d="M530.70,251.94 L530.70,319.16" fill="none" stroke="#ea2a2a" stroke-width="2.2" stroke-dasharray="7,4"/><path d="M530.70,323.50 L527.80,317.30 L533.60,317.30 Z" fill="#ea2a2a"/><path d="M530.70,247.60 L533.60,253.80 L527.80,253.80 Z" fill="#ea2a2a"/>
<path d="M162.54,283.60 L227.26,283.60" fill="none" stroke="#4a4a4a" stroke-width="2.2" /><path d="M231.60,283.60 L225.40,286.50 L225.40,280.70 Z" fill="#4a4a4a"/><path d="M158.20,283.60 L164.40,280.70 L164.40,286.50 Z" fill="#4a4a4a"/>
<path d="M485.74,285.40 L575.66,285.40" fill="none" stroke="#4a4a4a" stroke-width="2.2" /><path d="M580.00,285.40 L573.80,288.30 L573.80,282.50 Z" fill="#4a4a4a"/><path d="M481.40,285.40 L487.60,282.50 L487.60,288.30 Z" fill="#4a4a4a"/>
<path d="M502.80,230.80 L360.50,230.80 L360.50,189.84" fill="none" stroke="#4a4a4a" stroke-width="2.2" /><path d="M360.50,185.50 L363.40,191.70 L357.60,191.70 Z" fill="#4a4a4a"/>
<path d="M320.80,251.00 L320.80,277.66" fill="none" stroke="#4a4a4a" stroke-width="2.2" /><path d="M320.80,282.00 L317.90,275.80 L323.70,275.80 Z" fill="#4a4a4a"/>
<path d="M297.00,285.00 L350.26,285.00" fill="none" stroke="#4a4a4a" stroke-width="2.2" /><path d="M354.60,285.00 L348.40,287.90 L348.40,282.10 Z" fill="#4a4a4a"/>
</svg></body></html>
